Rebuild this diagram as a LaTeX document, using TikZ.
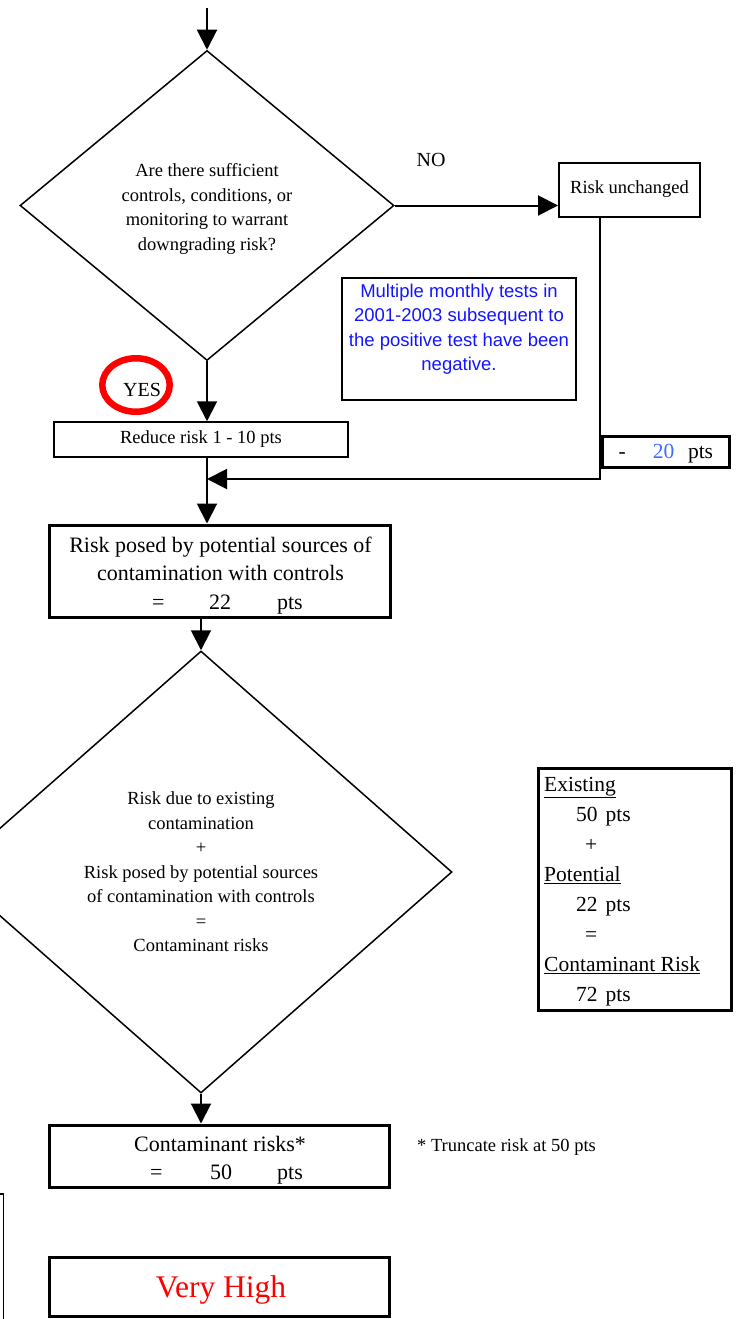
\documentclass[tikz,border=0pt]{standalone}
\usepackage{fontspec}
\setmainfont{Liberation Serif}
\newfontfamily\notefont{Liberation Sans}
\usetikzlibrary{shapes.geometric,arrows.meta}
\definecolor{noteblue}{RGB}{20,20,255}
\definecolor{ptsblue}{RGB}{60,110,255}
\definecolor{alertred}{RGB}{255,0,0}
\newcommand\fsz[2]{\fontsize{#1}{#2}\selectfont}

\begin{document}
\begin{tikzpicture}[x=1pt,y=-1pt,
  conn/.style={line width=2pt},
  tip/.style={-{Triangle[length=20pt,width=20pt]}},
  decision/.style={draw, diamond, line width=1.5pt, inner sep=0pt},
  thinbox/.style={draw, rectangle, line width=1.5pt, inner sep=0pt},
  boldbox/.style={draw, rectangle, line width=3pt, inner sep=0pt},
  lbl/.style={inner sep=0pt, align=center,
    execute at begin node=\strut, execute at end node=\strut},
  small/.style={font=\fsz{18.5pt}{24.5pt}},
  large/.style={font=\fsz{22pt}{28.5pt}},
]
\useasboundingbox (0,0) rectangle (740,1319);
\clip (0,0) rectangle (740,1319);

% first decision
\coordinate (entry) at (207,8);
\node[decision, minimum width=374pt, minimum height=310pt] (q1) at (207,205.5) {};
\node[lbl, small] (q1t) at (207,210.5)
  {Are there sufficient\\controls, conditions, or\\monitoring to warrant\\downgrading risk?};
\draw[conn,tip] (entry) -- (q1.north);

% NO branch
\node[inner sep=0pt, font=\fsz{20pt}{24pt}] (no) at (431,160) {NO};
\node[draw, line width=2pt, inner sep=0pt, minimum width=141pt, minimum height=54pt, small]
  (keep) at (629.5,189.5) {Risk unchanged};
\draw[conn,tip] (q1.east) -- (q1.east -| keep.west);

% note
\node[thinbox, minimum width=234pt, minimum height=122pt] (note) at (459,339) {};
\node[lbl, font=\notefont\fsz{18.5pt}{24.4pt}, text=noteblue] (notet) at (459,331)
  {Multiple monthly tests in\\2001-2003 subsequent to\\the positive test have been\\negative.};

% YES branch
\node[draw=alertred, ellipse, line width=6.5pt, inner sep=0pt,
  minimum width=67.5pt, minimum height=53.5pt] (yesring) at (136,385) {};
\node[inner sep=0pt, font=\fsz{20pt}{24pt}] (yes) at (142,390) {YES};
\node[thinbox, minimum width=294pt, minimum height=35pt, small] (cut) at (201,439.5)
  {Reduce risk 1 - 10 pts};
\draw[conn,tip] (q1.south) -- (q1.south |- cut.north);

% side route back into the main line
\coordinate (bend) at (600,479);
\draw[conn,tip] (keep.south -| bend) -- (bend) -- (bend -| q1.south);
\node[boldbox, minimum width=127pt, minimum height=31pt] (minus) at (665.5,451.5) {};
\node[anchor=base west, inner sep=0pt, font=\fsz{21.5pt}{26pt}] (minust) at (618.4,458.5)
  {-\hspace{27pt}\textcolor{ptsblue}{20}\hspace{13.75pt}pts};

% potential sources
\node[boldbox, minimum width=341pt, minimum height=92pt] (pot) at (219.5,571) {};
\node[lbl, large] (potA) at (220.5,563)
  {Risk posed by potential sources of\\contamination with controls};
\node[anchor=base west, inner sep=0pt, large] (potB) at (152,609.6)
  {=\hspace{44.5pt}22\hspace{46pt}pts};
\draw[conn,tip] (cut.south -| q1.south) -- (pot.north -| q1.south);

% second decision
\node[decision, minimum width=502pt, minimum height=442pt] (q2) at (201,872) {};
\node[lbl, small] (q2t) at (201,875.5)
  {Risk due to existing\\contamination\\+\\Risk posed by potential sources\\of contamination with controls\\=\\Contaminant risks};
\draw[conn,tip] (pot.south -| q2.north) -- (q2.north);

% tally
\node[boldbox, minimum width=193pt, minimum height=242pt] (tally) at (634.5,889) {};
\node[lbl, anchor=west, align=left, font=\fsz{21.5pt}{30pt}] (tallyt) at (544,893.5)
  {\underline{Existing}\\
   \hspace*{32pt}50\hspace{8pt}pts\\
   \hspace*{41pt}+\\
   \underline{Potential}\\
   \hspace*{32pt}22\hspace{8pt}pts\\
   \hspace*{41pt}=\\
   \underline{Contaminant Risk}\\
   \hspace*{32pt}72\hspace{8pt}pts};

% result
\node[boldbox, minimum width=340pt, minimum height=62pt] (sum) at (219,1156) {};
\node[lbl, large] (sumA) at (220,1146) {Contaminant risks*};
\node[anchor=base west, inner sep=0pt, large] (sumB) at (150,1179.6)
  {=\hspace{47.6pt}50\hspace{45pt}pts};
\draw[conn,tip] (q2.south) -- (q2.south |- sum.north);
\node[anchor=base west, inner sep=0pt, small] (trunc) at (417,1151) {* Truncate risk at 50 pts};

\node[boldbox, minimum width=340pt, minimum height=59pt] (level) at (219,1286.5) {};
\node[anchor=base, inner sep=0pt, font=\fsz{31.5pt}{36pt}, text=alertred]
  (levelt) at (221,1297) {Very High};

% box running off the left edge
\node[draw, line width=1.5pt, inner sep=0pt, minimum width=60pt, minimum height=200pt,
  anchor=north east] (offpage) at (4,1193) {};
\end{tikzpicture}
\end{document}
